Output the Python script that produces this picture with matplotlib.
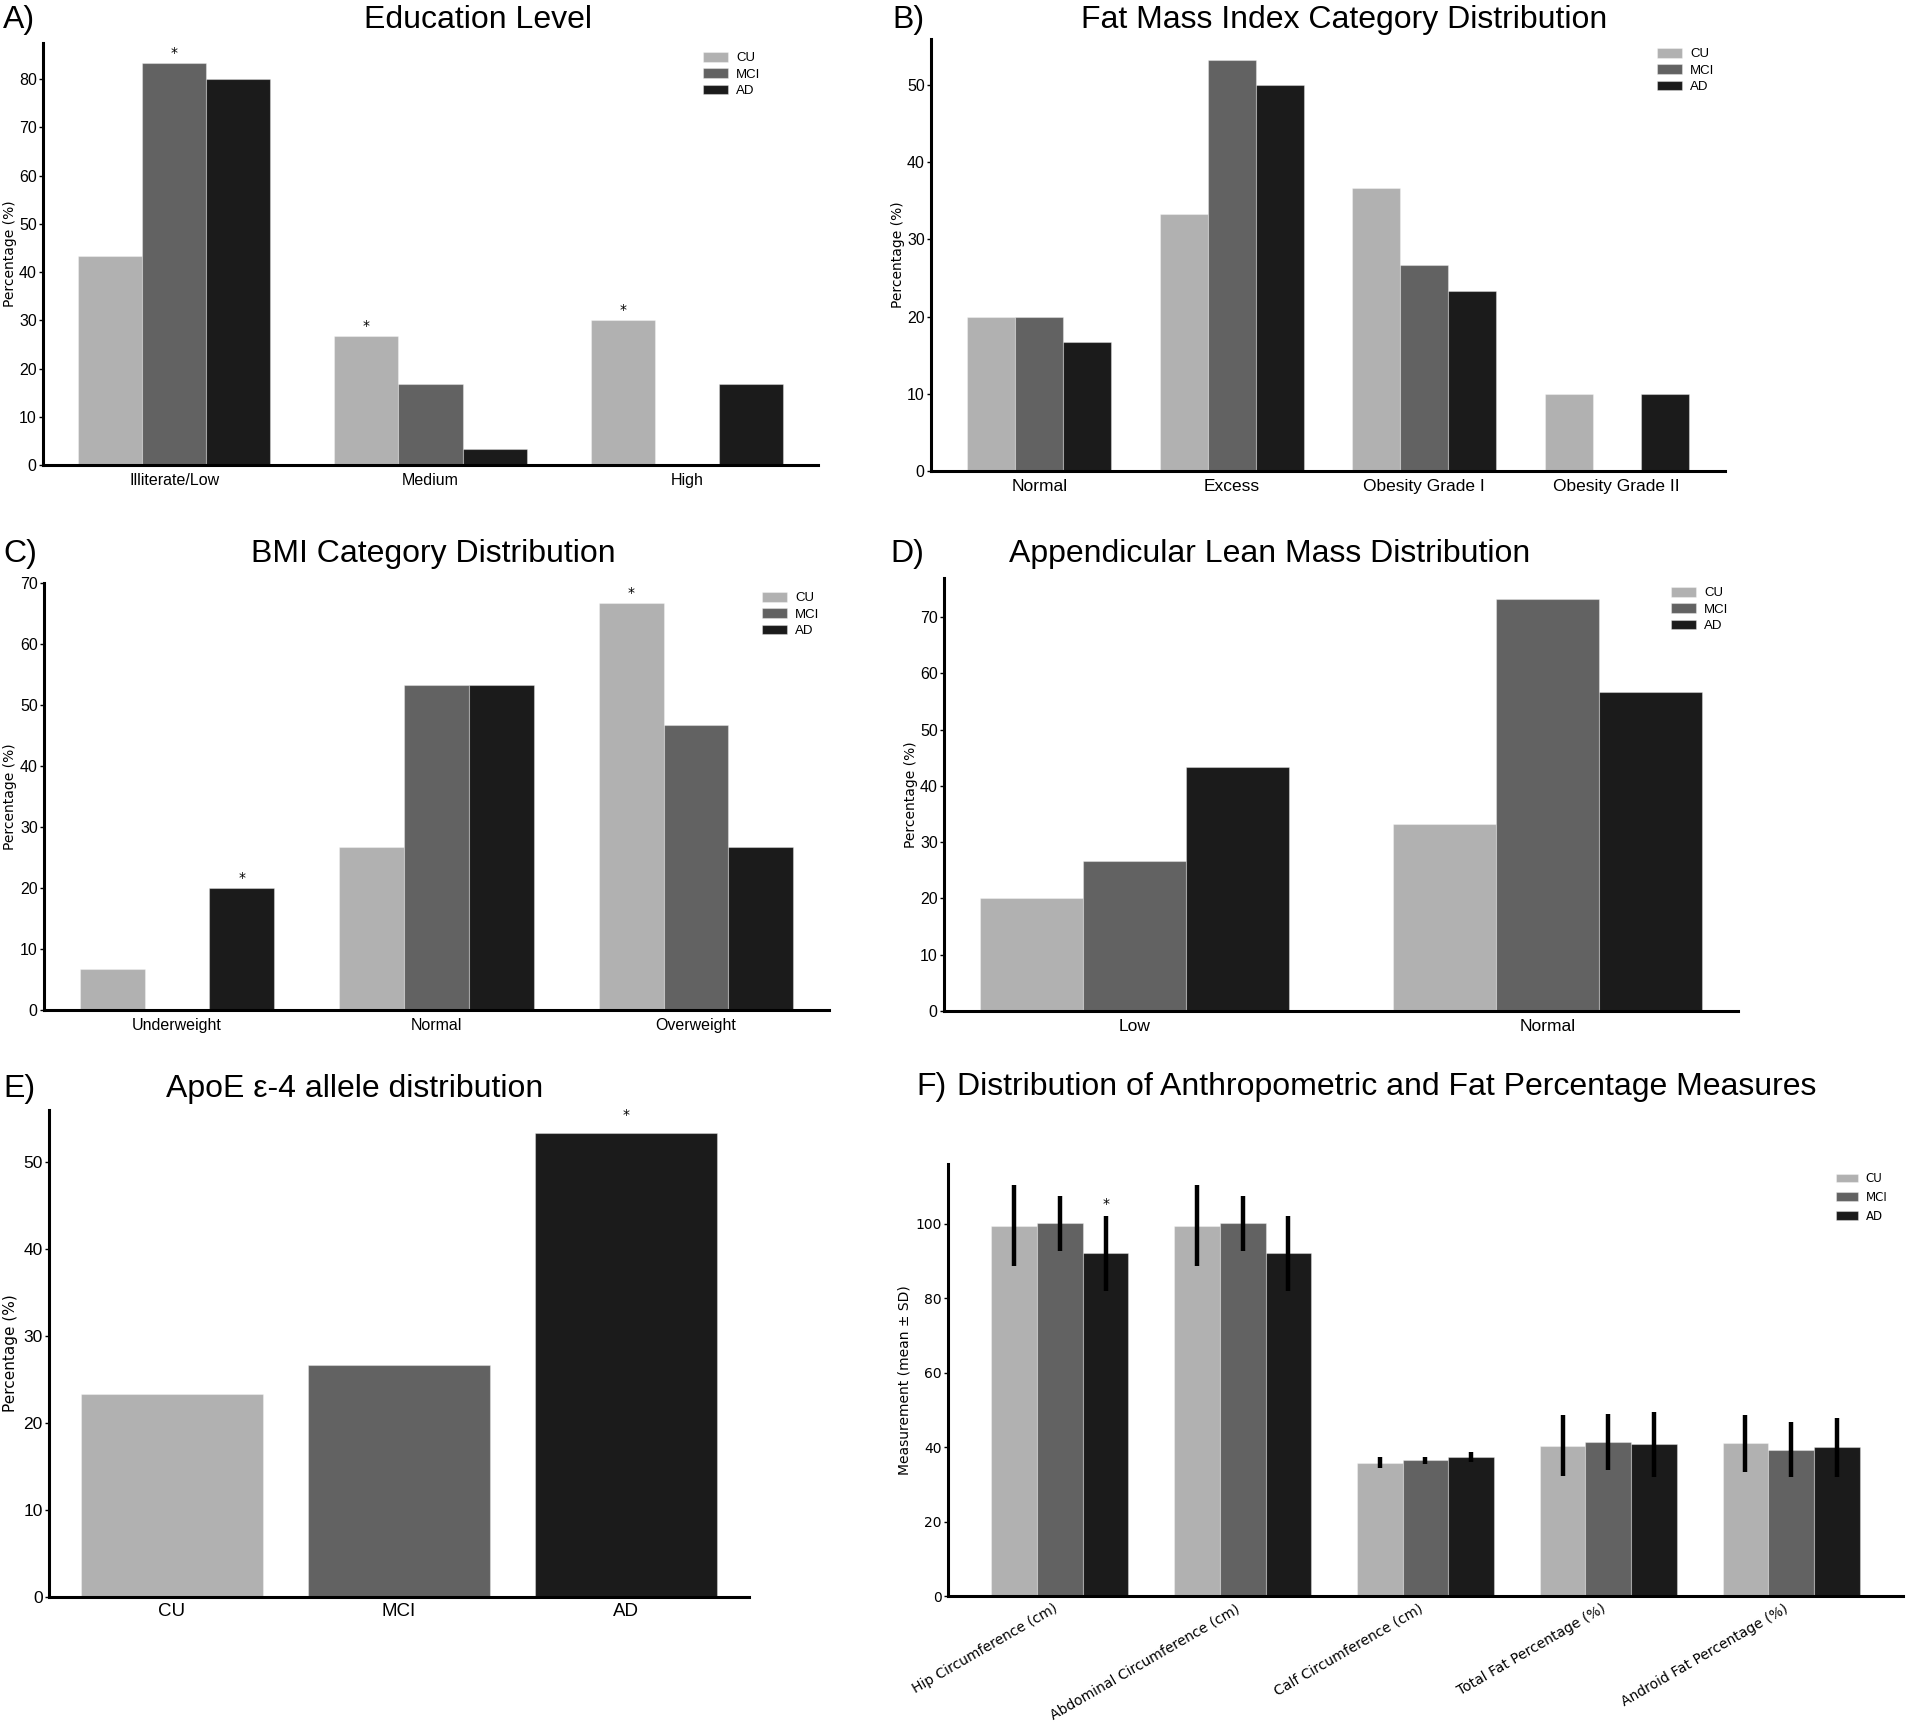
import matplotlib
matplotlib.use("Agg")
import matplotlib.pyplot as plt
import numpy as np
from matplotlib import font_manager

names = {f.name for f in font_manager.fontManager.ttflist}
REG = 'Liberation Sans' if 'Liberation Sans' in names else 'DejaVu Sans'
NAR = 'Liberation Sans Narrow' if 'Liberation Sans Narrow' in names else REG
DJV = 'DejaVu Sans'

# ---------------- data ----------------
groups = ['CU', 'MCI', 'AD']
colors = ['#b1b1b1', '#626262', '#1b1b1b']

edu_cats = ['Illiterate/Low', 'Medium', 'High']
edu_cu = [43.3, 26.7, 30.0]
edu_mci = [83.3, 16.7, 0.0]
edu_ad = [80.0, 3.3, 16.7]
edu_sig = [(0, 1), (1, 0), (2, 0)]  # (category, group index)

fmi_cats = ['Normal', 'Excess', 'Obesity Grade I', 'Obesity Grade II']
fmi_cu = [20.0, 33.3, 36.7, 10.0]
fmi_mci = [20.0, 53.3, 26.7, 0.0]
fmi_ad = [16.7, 50.0, 23.3, 10.0]
fmi_sig = []

bmi_cats = ['Underweight', 'Normal', 'Overweight']
bmi_cu = [6.7, 26.7, 66.7]
bmi_mci = [0.0, 53.3, 46.7]
bmi_ad = [20.0, 53.3, 26.7]
bmi_sig = [(0, 2), (2, 0)]

alm_cats = ['Low', 'Normal']
alm_cu = [20.0, 33.3]
alm_mci = [26.7, 73.3]
alm_ad = [43.3, 56.7]
alm_sig = []

apoe_vals = [23.3, 26.7, 53.3]
apoe_sig = [2]

anthro_cats = ['Hip Circumference (cm)', 'Abdominal Circumference (cm)',
               'Calf Circumference (cm)', 'Total Fat Percentage (%)',
               'Android Fat Percentage (%)']
cu_mean = [99.5, 99.5, 35.8, 40.4, 41.0]
cu_sd = [11.0, 11.0, 1.5, 8.1, 7.7]
mci_mean = [100.1, 100.1, 36.4, 41.4, 39.3]
mci_sd = [7.4, 7.4, 1.0, 7.6, 7.3]
ad_mean = [92.0, 92.0, 37.3, 40.7, 39.9]
ad_sd = [10.0, 10.0, 1.4, 8.7, 7.9]
anthro_sig = [(0, 2)]

# ---------------- figure ----------------
W, H = 1908, 1725
fig = plt.figure(figsize=(W / 100, H / 100), dpi=100)


def add_ax(l, r, t, b):
    return fig.add_axes([l / W, 1 - b / H, (r - l) / W, (b - t) / H])


def style(ax, ytick_font=REG, ytick_size=11.5, xtick_font=NAR, xtick_size=12):
    for s in ['top', 'right']:
        ax.spines[s].set_visible(False)
    for s in ['left', 'bottom']:
        ax.spines[s].set_linewidth(2.2)
    ax.tick_params(axis='y', length=3, width=1, pad=1.5)
    ax.tick_params(axis='x', length=0, pad=6)
    for lab in ax.get_yticklabels():
        lab.set_fontfamily(ytick_font)
        lab.set_fontsize(ytick_size)
    for lab in ax.get_xticklabels():
        lab.set_fontfamily(xtick_font)
        lab.set_fontsize(xtick_size)


def set_ylabel(ax, text, px, size=10):
    # px = x pixel of the right side (text bottom) of the rotated label
    ax.set_ylabel(text, fontfamily=DJV, fontsize=size)
    pos = ax.get_position()
    l = pos.x0 * W
    w = pos.width * W
    ax.yaxis.set_label_coords((px - l) / w, 0.5)


def add_legend(ax, handles, x, y, font=REG, size=9.5, spacing=0.3):
    ax.legend(handles, groups, loc='upper left', frameon=False,
              bbox_to_anchor=(x / W, 1 - y / H), bbox_transform=fig.transFigure,
              borderpad=0, borderaxespad=0, handlelength=1.9, handleheight=0.75,
              labelspacing=spacing, handletextpad=0.6,
              prop={'family': font, 'size': size})


def grouped(ax, cats, series, sig, star_off=7.5):
    x = np.arange(len(cats))
    w = 0.25
    handles = []
    for i, vals in enumerate(series):
        b = ax.bar(x + (i - 1) * w, vals, w, color=colors[i],
                   edgecolor=(1, 1, 1, 0.35), linewidth=0.8)
        handles.append(b)
    for ci, gi in sig:
        ax.annotate('*', xy=(x[ci] + (gi - 1) * w, series[gi][ci]),
                    xytext=(0, star_off), textcoords='offset points',
                    ha='center', va='center', fontsize=10, fontfamily=DJV)
    ax.set_xticks(x)
    ax.set_xticklabels(cats)
    return handles


def panel_title(letter, lx, title, cx, y, left=False):
    fig.text(lx / W, 1 - y / H, letter, fontfamily=REG, fontsize=23,
             ha='left', va='baseline')
    fig.text(cx / W, 1 - y / H, title, fontfamily=REG, fontsize=23,
             ha='left' if left else 'center', va='baseline')


# A) Education
axA = add_ax(43, 818, 43, 465)
hA = grouped(axA, edu_cats, [edu_cu, edu_mci, edu_ad], edu_sig)
style(axA, xtick_size=11.5)
set_ylabel(axA, 'Percentage (%)', 17)
add_legend(axA, hA, 703, 52)
panel_title('A)', 3, 'Education Level', 478, 28)

# B) FMI
axB = add_ax(931, 1725, 39, 471)
hB = grouped(axB, fmi_cats, [fmi_cu, fmi_mci, fmi_ad], fmi_sig)
style(axB, xtick_size=12.5)
set_ylabel(axB, 'Percentage (%)', 905)
add_legend(axB, hB, 1657, 48)
panel_title('B)', 892, 'Fat Mass Index Category Distribution', 1344, 28)

# C) BMI
axC = add_ax(44, 829, 583, 1010)
hC = grouped(axC, bmi_cats, [bmi_cu, bmi_mci, bmi_ad], bmi_sig)
style(axC, xtick_size=11.5)
set_ylabel(axC, 'Percentage (%)', 17)
add_legend(axC, hC, 762, 592)
panel_title('C)', 3, 'BMI Category Distribution', 433, 562)

# D) ALM
axD = add_ax(944, 1738, 578, 1011)
hD = grouped(axD, alm_cats, [alm_cu, alm_mci, alm_ad], alm_sig)
style(axD, xtick_size=12.5)
set_ylabel(axD, 'Percentage (%)', 918)
add_legend(axD, hD, 1671, 587)
panel_title('D)', 890, 'Appendicular Lean Mass Distribution', 1270, 562)

# E) ApoE
axE = add_ax(49, 749, 1110, 1597)
xe = np.arange(len(groups))
axE.bar(xe, apoe_vals, 0.8, color=colors, edgecolor=(1, 1, 1, 0.35), linewidth=0.8)
for gi in apoe_sig:
    axE.annotate('*', xy=(xe[gi], apoe_vals[gi]), xytext=(0, 13),
                 textcoords='offset points', ha='center', va='center',
                 fontsize=10, fontfamily=DJV)
axE.set_xticks(xe)
axE.set_xticklabels(groups)
style(axE, ytick_size=12.5, xtick_size=13.5)
axE.tick_params(axis='x', pad=4)
set_ylabel(axE, 'Percentage (%)', 18, size=11)
panel_title('E)', 3, 'ApoE \u03b5-4 allele distribution', 355, 1097)

# F) Anthropometric
axF = add_ax(948, 1903, 1164, 1596)
xf = np.arange(len(anthro_cats))
wf = 0.25
means = [cu_mean, mci_mean, ad_mean]
sds = [cu_sd, mci_sd, ad_sd]
hF = []
for i in range(3):
    b = axF.bar(xf + (i - 1) * wf, means[i], wf, color=colors[i],
                edgecolor=(1, 1, 1, 0.35), linewidth=0.8,
                yerr=sds[i], error_kw=dict(ecolor='black', elinewidth=3.2, capsize=0))
    hF.append(b)
for ci, gi in anthro_sig:
    axF.annotate('*', xy=(xf[ci] + (gi - 1) * wf, means[gi][ci] + sds[gi][ci]),
                 xytext=(0, 9), textcoords='offset points', ha='center',
                 va='center', fontsize=10, fontfamily=DJV)
axF.set_xticks(xf)
axF.set_xticklabels(anthro_cats, rotation=30, ha='right')
style(axF, ytick_font=DJV, ytick_size=10, xtick_font=DJV, xtick_size=10)
axF.tick_params(axis='x', pad=4)
set_ylabel(axF, 'Measurement (mean \u00b1 SD)', 912)
add_legend(axF, hF, 1836, 1172, font=DJV, size=8.5, spacing=0.5)
panel_title('F)', 916, 'Distribution of Anthropometric and Fat Percentage Measures', 957, 1095, left=True)

fig.savefig('out.png', dpi=100)
